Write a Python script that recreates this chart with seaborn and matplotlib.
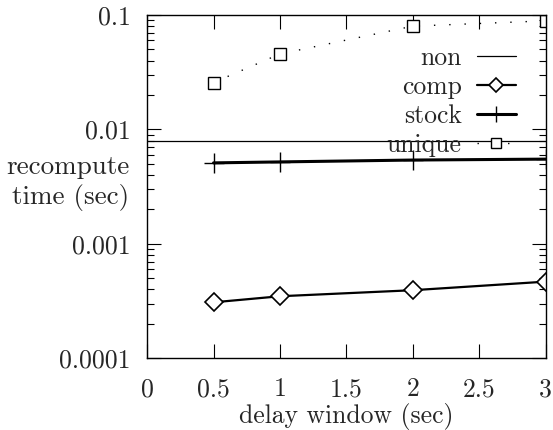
import matplotlib
matplotlib.use("Agg")
import matplotlib.pyplot as plt
import matplotlib.ticker as mticker
import seaborn as sns
import pandas as pd

delay = [0.5, 1, 2, 3]
non_x = [0, 3]
non_y = [0.0080, 0.0080]
comp = [0.000308, 0.000348, 0.000393, 0.000467]
stock = [0.0051, 0.0052, 0.0054, 0.0055]
unique = [0.0257, 0.0457, 0.080, 0.089]
x_ticks = [0, 0.5, 1, 1.5, 2, 2.5, 3]
x_tick_labels = ["0", "0.5", "1", "1.5", "2", "2.5", "3"]
y_ticks = [0.0001, 0.001, 0.01, 0.1]
y_tick_labels = ["0.0001", "0.001", "0.01", "0.1"]

sns.set_style("ticks")
plt.rcParams['font.family'] = ['cmr10', 'DejaVu Serif']
plt.rcParams['axes.formatter.use_mathtext'] = True

FS = 18.5
fig = plt.figure(figsize=(5.53, 4.30), dpi=100)
ax = fig.add_axes([0.266, 0.167, 0.721, 0.798])

sns.lineplot(x=non_x, y=non_y, ax=ax, color="black", lw=0.9, label="non")
sns.lineplot(x=delay, y=comp, ax=ax, color="black", lw=1.6, marker="D",
             markersize=9, markerfacecolor="white", markeredgecolor="black",
             markeredgewidth=1.2, label="comp")
sns.lineplot(x=delay, y=stock, ax=ax, color="black", lw=2.2, marker="+",
             markersize=14, markeredgewidth=1.0, markeredgecolor="black",
             label="stock")
sns.lineplot(x=delay, y=unique, ax=ax, color="black", lw=1.0, marker="s",
             markersize=9, markerfacecolor="white", markeredgecolor="black",
             markeredgewidth=1.0, linestyle=(0, (1, 10)), label="unique")

ax.set_yscale("log")
ax.set_xlim(0, 3)
ax.set_ylim(0.0001, 0.1)
ax.set_xticks(x_ticks)
ax.set_xticklabels(x_tick_labels)
ax.set_yticks(y_ticks)
ax.set_yticklabels(y_tick_labels)
ax.yaxis.set_minor_locator(mticker.LogLocator(base=10, subs=range(2, 10)))
ax.yaxis.set_minor_formatter(mticker.NullFormatter())
ax.tick_params(which="both", direction="in", top=True, right=True,
               labelsize=FS, color="black")
ax.tick_params(which="major", length=10, width=0.8)
ax.tick_params(which="minor", length=5, width=0.8)
ax.tick_params(axis="y", which="major", pad=12)
ax.tick_params(axis="x", which="major", pad=14)
for s in ax.spines.values():
    s.set_linewidth(1.0)
    s.set_color("black")

ax.set_xlabel("delay window (sec)", fontsize=FS, labelpad=1)
ax.set_ylabel("")
fig.text(0.234, 0.575, "recompute\ntime (sec)", ha="right", va="center",
         fontsize=19.5, linespacing=1.25)

leg = ax.legend(loc="upper right", bbox_to_anchor=(0.95, 0.939),
                frameon=False, markerfirst=False, fontsize=FS,
                handlelength=1.5, labelspacing=0.2, borderaxespad=0,
                handletextpad=0.6, markerscale=0.8)
for t in leg.get_texts():
    t.set_ha("right")

fig.savefig("out.png", dpi=100)
